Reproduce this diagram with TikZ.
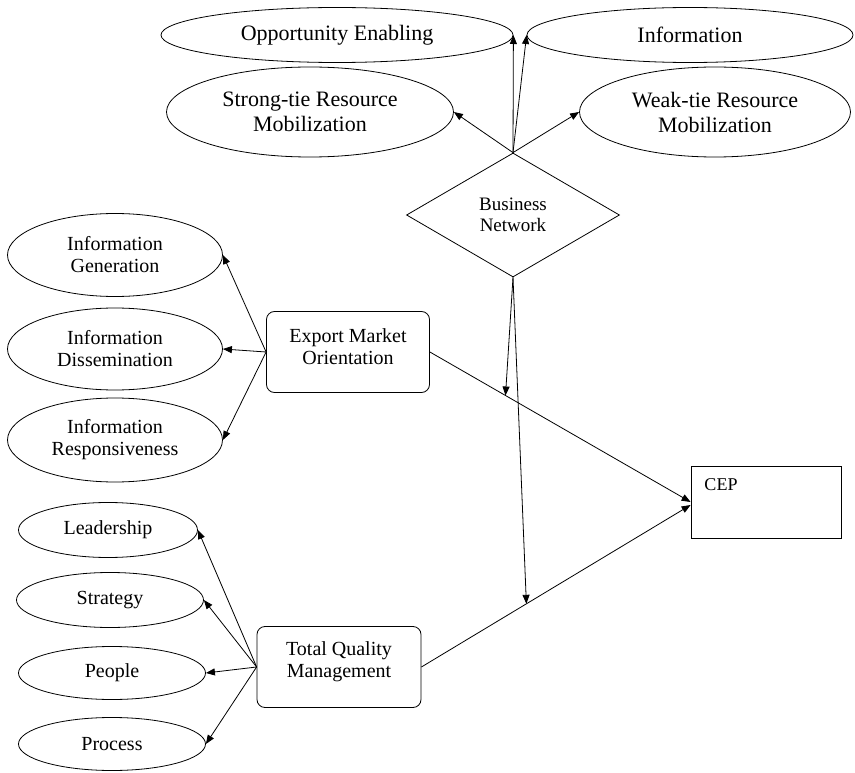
\documentclass[tikz,border=0pt]{standalone}
\usepackage{fontspec}
\setmainfont{Liberation Serif}
\usetikzlibrary{shapes.geometric,arrows.meta}
\begin{document}
\begin{tikzpicture}[x=1pt,y=-1pt,
  every node/.style={inner sep=0pt},
  big/.style={font=\fontsize{22}{25}\selectfont},
  small/.style={font=\fontsize{20}{22}\selectfont},
  ell/.style={draw,ellipse,line width=0.8pt,align=center},
  rbox/.style={draw,rectangle,rounded corners=8pt,line width=0.8pt},
  arr/.style={line width=0.8pt,-{Triangle[length=9pt,width=7pt]}},
  ln/.style={line width=0.8pt}]
\useasboundingbox (0,0) rectangle (855,773);
% top ellipses
\node[ell,big,minimum width=352pt,minimum height=55pt] (oe) at (337,35) {Opportunity Enabling};
\node[ell,big,minimum width=326pt,minimum height=55pt] (inf) at (690,35) {Information};
\node[ell,big,minimum width=287pt,minimum height=90pt] (st) at (310,112) {Strong-tie Resource\\Mobilization};
\node[ell,big,minimum width=271pt,minimum height=90pt] (wt) at (715,112) {Weak-tie Resource\\Mobilization};
% business network
\node[draw,diamond,aspect=1.72,line width=0.8pt,minimum width=213pt,minimum height=124pt,
      align=center,font=\fontsize{19}{21}\selectfont] (bn) at (513,215) {Business\\Network};
% EMO group
\node[ell,small,minimum width=215pt,minimum height=83pt] (ig) at (115,255) {Information\\Generation};
\node[ell,small,minimum width=215pt,minimum height=82pt] (id) at (115,349) {Information\\Dissemination};
\node[ell,small,minimum width=215pt,minimum height=84pt] (ir) at (115,440) {Information\\Responsiveness};
\node[rbox,minimum width=163pt,minimum height=81pt,
      label={[small,align=center,yshift=5pt]center:{Export Market\\Orientation}}] (emo) at (348,352) {};
% TQM group
\node[ell,small,minimum width=179pt,minimum height=55pt] (ld) at (108,530) {Leadership};
\node[ell,small,minimum width=187pt,minimum height=55pt] (sg) at (110,600) {Strategy};
\node[ell,small,minimum width=187pt,minimum height=53pt] (pp) at (112,673) {People};
\node[ell,small,minimum width=187pt,minimum height=53pt] (pc) at (112,744) {Process};
\node[rbox,minimum width=164pt,minimum height=81pt,
      label={[small,align=center,yshift=5pt]center:{Total Quality\\Management}}] (tqm) at (339,667) {};
% CEP
\node[draw,rectangle,line width=0.8pt,minimum width=150pt,minimum height=72pt] (cep) at (766,502) {};
\node[font=\fontsize{18}{21}\selectfont] (cept) at (721,485) {CEP};
% arrows from business network
\draw[arr] (bn.north) -- (oe.east);
\draw[arr] (bn.north) -- (inf.west);
\draw[arr] (bn.north) -- (st.east);
\draw[arr] (bn.north) -- (wt.west);
% arrows from EMO
\draw[arr] (emo.west) -- (ig.east);
\draw[arr] (emo.west) -- (id.east);
\draw[arr] (emo.west) -- (ir.east);
% arrows from TQM
\draw[arr] (tqm.west) -- (ld.east);
\draw[arr] (tqm.west) -- (sg.east);
\draw[arr] (tqm.west) -- (pp.east);
\draw[arr] (tqm.west) -- (pc.east);
% to CEP
\draw[arr] (emo.east) -- coordinate[pos=0.29] (m1) (cep.west);
\draw[arr] (tqm.east) -- coordinate[pos=0.39] (m2) ([yshift=-3pt]cep.west);
% moderation
\draw[arr] (bn.south) -- (m1);
\draw[arr] (bn.south) -- (m2);
\end{tikzpicture}
\end{document}
